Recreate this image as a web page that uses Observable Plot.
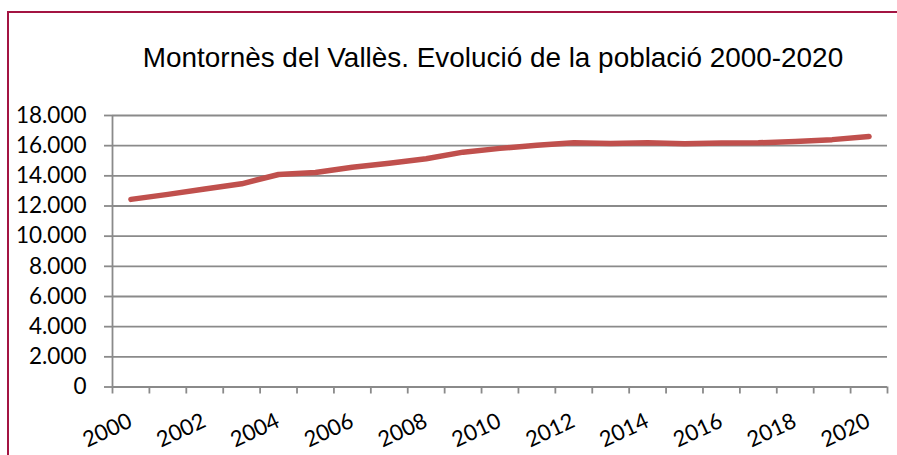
<!DOCTYPE html>
<html>
<head>
<meta charset="utf-8">
<script src="https://cdn.jsdelivr.net/npm/d3@7"></script>
<script src="https://cdn.jsdelivr.net/npm/@observablehq/plot@0.6"></script>
<style>
  html, body { margin: 0; padding: 0; background: #fff; overflow: hidden; }
  #wrap { position: relative; width: 897px; height: 455px; overflow: hidden; }
  #frame { position: absolute; left: 7px; top: 11px; width: 1000px; height: 600px;
           border-left: 2px solid #a31442; border-top: 2px solid #a31442; box-sizing: border-box; }
  #title { position: absolute; left: 0; width: 986px; top: 44px; text-align: center;
           font-family: "Liberation Sans", Arial, sans-serif; font-size: 27.9px; line-height: 27.9px;
           color: #000; white-space: nowrap; }
  #chart { position: absolute; left: 0; top: 0; }
</style>
</head>
<body>
<div id="wrap">
  <div id="frame"></div>
  <div id="chart"></div>
  <div id="title">Montornès del Vallès. Evolució de la població 2000-2020</div>
</div>
<script>
const years = [2000, 2001, 2002, 2003, 2004, 2005, 2006, 2007, 2008, 2009, 2010,
               2011, 2012, 2013, 2014, 2015, 2016, 2017, 2018, 2019, 2020];
const population = [12440, 12770, 13130, 13470, 14090, 14220, 14570, 14840, 15130, 15570, 15820,
                    16030, 16200, 16150, 16200, 16130, 16170, 16190, 16270, 16400, 16610];
const yTicks = [0, 2000, 4000, 6000, 8000, 10000, 12000, 14000, 16000, 18000];
const xLabelYears = [2000, 2002, 2004, 2006, 2008, 2010, 2012, 2014, 2016, 2018, 2020];

const data = years.map((y, i) => ({year: y, value: population[i]}));
const boundaries = years.map(y => y - 0.5).concat([years[years.length - 1] + 0.5]);
const fmt = d => d3.format(",")(d).replace(/,/g, ".");
const gray = "#8a8a8a";
const axisFont = "Lato, 'Liberation Sans', sans-serif";

const chart = Plot.plot({
  width: 897,
  height: 455,
  marginTop: 115,
  marginBottom: 68.5,
  marginLeft: 112,
  marginRight: 10,
  x: {domain: [boundaries[0], boundaries[boundaries.length - 1]]},
  y: {domain: [0, 18000]},
  style: {background: "transparent", overflow: "visible"},
  marks: [
    Plot.gridY(yTicks, {stroke: gray, strokeOpacity: 1, strokeWidth: 1.8}),
    Plot.ruleX([boundaries[0]], {stroke: gray, strokeWidth: 1.8}),
    Plot.ruleY([0], {stroke: gray, strokeWidth: 1.8}),
    Plot.axisY(yTicks, {tickSize: 8, tickPadding: 18, tickFormat: fmt, fontSize: 22.5,
      fontFamily: axisFont, fill: "#000", stroke: gray, strokeWidth: 1.8, label: null}),
    Plot.axisX(boundaries, {tickSize: 7, tickFormat: () => "", stroke: gray, strokeWidth: 1.8, label: null}),
    Plot.text(xLabelYears, {x: d => d, y: () => 0, text: d => String(d), dy: 25, dx: -4,
      rotate: -25, textAnchor: "end", lineAnchor: "top", fontSize: 22, fontFamily: axisFont, fill: "#000"}),
    Plot.line(data, {x: "year", y: "value", stroke: "#c0504d", strokeWidth: 5.5,
      strokeLinecap: "round", strokeLinejoin: "round"})
  ]
});
document.getElementById("chart").appendChild(chart);
</script>
</body>
</html>
